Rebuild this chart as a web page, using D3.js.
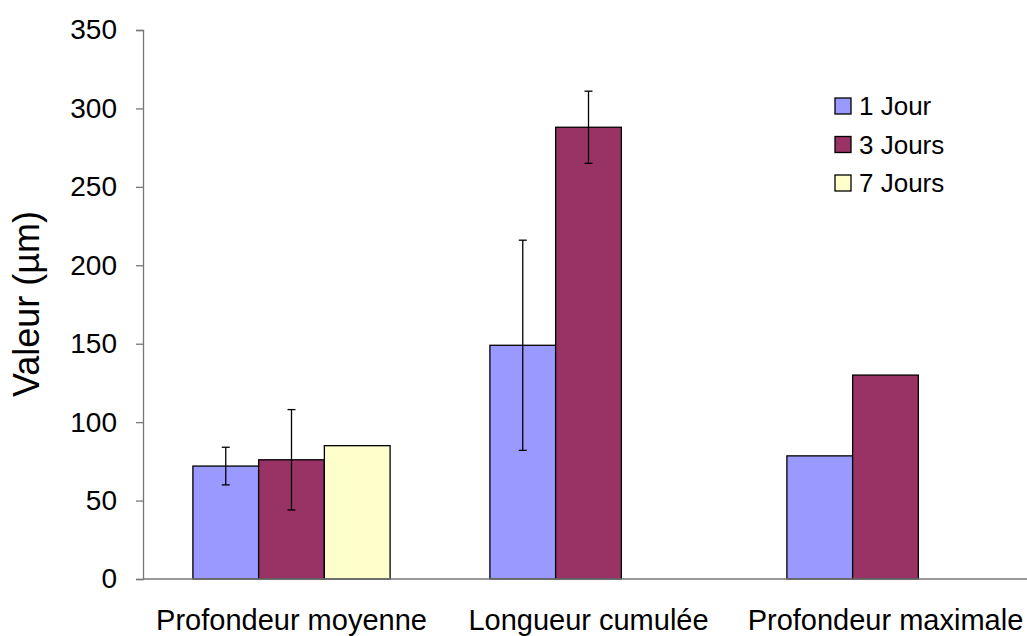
<!DOCTYPE html>
<html>
<head>
<meta charset="utf-8">
<script src="https://cdn.jsdelivr.net/npm/d3@7"></script>
<style>
  body { margin: 0; background: #fff; }
  text { font-family: "Liberation Sans", Arial, sans-serif; fill: #000; }
</style>
</head>
<body>
<svg id="chart" width="1027" height="636"></svg>
<script>
// chart data
const categories = ['Profondeur moyenne', 'Longueur cumulée', 'Profondeur maximale'];
const seriesNames = ['1 Jour', '3 Jours', '7 Jours'];
const colors = ['#9999FF', '#993366', '#FFFFCC'];

// values per series, one per category (null = no bar)
const jour1 = [72, 149, 78.5];
const jours3 = [76, 288, 130];
const jours7 = [85, null, null];

// error bars (+/-), null = none
const err1 = [12, 67, null];
const err3 = [32, 23, null];
const err7 = [null, null, null];

const yTicks = [0, 50, 100, 150, 200, 250, 300, 350];

const values = [jour1, jours3, jours7];
const errors = [err1, err3, err7];

const svg = d3.select('#chart');

// plot area
const plotLeft = 143, plotTop = 30, plotBottom = 579, plotRight = 1034;

const x = d3.scaleBand()
  .domain(categories)
  .range([plotLeft, plotRight]);

const y = d3.scaleLinear()
  .domain([0, 350])
  .range([plotBottom, plotTop]);

// bars sit in the middle of each band, leaving gaps on both sides
const gap = x.bandwidth() * 0.168;
const xs = d3.scaleBand()
  .domain(seriesNames)
  .range([gap, x.bandwidth() - gap]);

// y axis
const yAxis = svg.append('g')
  .attr('transform', `translate(${plotLeft},0)`)
  .call(d3.axisLeft(y).tickValues(yTicks).tickSize(7).tickPadding(19));
yAxis.select('.domain').attr('stroke', '#777').attr('stroke-width', 1.3);
yAxis.selectAll('.tick line').attr('stroke', '#777').attr('stroke-width', 1.3);
yAxis.selectAll('.tick text')
  .attr('font-size', '28px')
  .attr('font-family', '"Liberation Sans", Arial, sans-serif')
  .attr('fill', '#000');

// bars
const bars = [];
values.forEach((vals, si) => {
  vals.forEach((v, ci) => {
    if (v != null) bars.push({ s: si, c: ci, v: v, e: errors[si][ci] });
  });
});

svg.append('g').selectAll('rect')
  .data(bars)
  .enter()
  .append('rect')
  .attr('x', d => x(categories[d.c]) + xs(seriesNames[d.s]))
  .attr('y', d => y(d.v))
  .attr('width', xs.bandwidth())
  .attr('height', d => y(0) - y(d.v))
  .attr('fill', d => colors[d.s])
  .attr('stroke', '#000')
  .attr('stroke-width', 1.3);

// x axis line (drawn over bars' bottom)
svg.append('line')
  .attr('x1', plotLeft).attr('x2', plotRight)
  .attr('y1', y(0)).attr('y2', y(0))
  .attr('stroke', '#777')
  .attr('stroke-width', 1.3);

// error bars
const errG = svg.append('g').attr('stroke', '#000').attr('stroke-width', 1.3);
bars.filter(d => d.e != null).forEach(d => {
  const cx = x(categories[d.c]) + xs(seriesNames[d.s]) + xs.bandwidth() / 2;
  errG.append('line')
    .attr('x1', cx).attr('x2', cx)
    .attr('y1', y(d.v + d.e)).attr('y2', y(d.v - d.e));
  [d.v + d.e, d.v - d.e].forEach(t => {
    errG.append('line')
      .attr('x1', cx - 4).attr('x2', cx + 4)
      .attr('y1', y(t)).attr('y2', y(t));
  });
});

// category labels
svg.append('g').selectAll('text')
  .data(categories)
  .enter()
  .append('text')
  .attr('x', d => x(d) + x.bandwidth() / 2)
  .attr('y', 630)
  .attr('text-anchor', 'middle')
  .attr('font-size', '29px')
  .text(d => d);

// y axis title
svg.append('text')
  .attr('transform', 'translate(39,304) rotate(-90)')
  .attr('text-anchor', 'middle')
  .attr('font-size', '36px')
  .text('Valeur (µm)');

// legend
const legend = svg.append('g')
  .attr('class', 'legend')
  .attr('transform', 'translate(835,98)');

legend.selectAll('.legend-item')
  .data(seriesNames)
  .enter()
  .append('g')
  .attr('class', 'legend-item')
  .attr('transform', (d, i) => `translate(0, ${i * 38.5})`)
  .each(function (d, i) {
    const item = d3.select(this);
    item.append('rect')
      .attr('width', 16)
      .attr('height', 16)
      .attr('fill', colors[i])
      .attr('stroke', '#000')
      .attr('stroke-width', 1.3);
    item.append('text')
      .attr('x', 24)
      .attr('y', 8)
      .attr('dy', '0.35em')
      .attr('font-size', '26px')
      .text(d);
  });
</script>
</body>
</html>
